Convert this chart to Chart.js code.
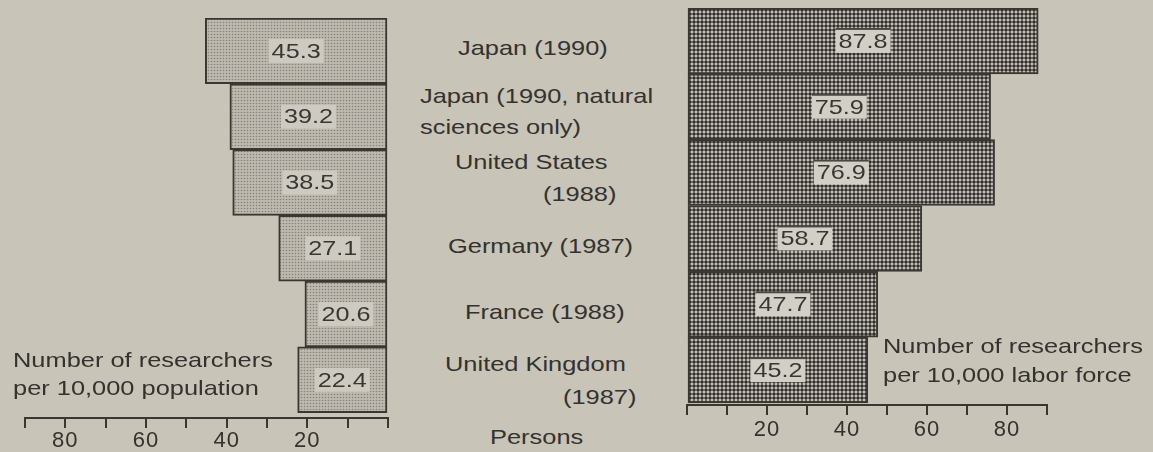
<!DOCTYPE html>
<html>
<head>
<meta charset="utf-8">
<title>Number of researchers</title>
<script src="https://cdn.jsdelivr.net/npm/chart.js@4.4.1/dist/chart.umd.min.js"></script>
<style>
  html, body { margin: 0; padding: 0; background: #c8c4b7; }
  #stage {
    position: relative; width: 1153px; height: 452px; overflow: hidden;
    background: #c8c4b7; color: #34322f;
    font-family: "Liberation Sans", Arial, sans-serif;
  }
  #stage canvas { position: absolute; top: 0; }
  .t {
    position: absolute; font-size: 21px; line-height: 24px; white-space: nowrap;
    transform: scaleX(1.21); transform-origin: 0 0;
  }
</style>
</head>
<body>
<div id="stage">
  <canvas id="popChart" width="400" height="452" style="left:0"></canvas>
  <canvas id="laborChart" width="473" height="452" style="left:680px"></canvas>
</div>
<script>
// Countries (survey year), one entry per row, split into printed lines
const countries = [
  ["Japan (1990)"],
  ["Japan (1990, natural", "sciences only)"],
  ["United States", "(1988)"],
  ["Germany (1987)"],
  ["France (1988)"],
  ["United Kingdom", "(1987)"]
];
// Researchers per 10,000 population
const perPopulation = [45.3, 39.2, 38.5, 27.1, 20.6, 22.4];
// Researchers per 10,000 labor force
const perLaborForce = [87.8, 75.9, 76.9, 58.7, 47.7, 45.2];
// Axis labels
const axisTicks = [20, 40, 60, 80];
const axisUnit = "Persons";
const popCaption = ["Number of researchers", "per 10,000 population"];
const laborCaption = ["Number of researchers", "per 10,000 labor force"];

// ---- page text placement (left, top of each printed line) ----
const countryLinePos = [
  [[458, 36]],
  [[420, 84], [420, 115]],
  [[455, 150], [543, 182]],
  [[448, 234]],
  [[465, 300]],
  [[445, 352], [563, 385]]
];
const stage = document.getElementById('stage');
function addText(str, left, top) {
  const d = document.createElement('div');
  d.className = 't';
  d.textContent = str;
  d.style.left = left + 'px';
  d.style.top = top + 'px';
  stage.appendChild(d);
}
countries.forEach((lines, i) => lines.forEach((s, j) => addText(s, countryLinePos[i][j][0], countryLinePos[i][j][1])));
addText(axisUnit, 490, 425);
addText(popCaption[0], 13, 348);
addText(popCaption[1], 13, 376);
addText(laborCaption[0], 883, 334);
addText(laborCaption[1], 883, 363);

// ---- drawing helpers ----
const INK = '#3a3733';
const FONT = '"Liberation Sans", Arial, sans-serif';

// Fine halftone screen for the population bars
function fineScreen() {
  const c = document.createElement('canvas');
  c.width = c.height = 3;
  const g = c.getContext('2d');
  g.fillStyle = '#bebab0';
  g.fillRect(0, 0, 3, 3);
  g.fillStyle = '#85817a';
  g.beginPath();
  g.arc(1.5, 1.5, 0.8, 0, Math.PI * 2);
  g.fill();
  return g.createPattern(c, 'repeat');
}
// Coarse dark/light checker screen for the labor-force bars
function checkerScreen() {
  const s = 4;
  const c = document.createElement('canvas');
  c.width = c.height = s;
  const g = c.getContext('2d');
  g.fillStyle = '#6e6b66';
  g.fillRect(0, 0, s, s);
  g.fillStyle = '#2f2d2a';
  g.beginPath();
  g.arc(s / 2, s / 2, 1.35, 0, Math.PI * 2);
  g.fill();
  g.fillStyle = '#c4c1b8';
  [[0, 0], [s, 0], [0, s], [s, s]].forEach(([x, y]) => {
    g.beginPath();
    g.arc(x, y, 1.2, 0, Math.PI * 2);
    g.fill();
  });
  return g.createPattern(c, 'repeat');
}
const lightScreen = fineScreen();
const darkScreen = checkerScreen();

// Wider type spacing for the axis numbers
const typeSpacing = {
  id: 'typeSpacing',
  beforeDraw(chart) { chart.ctx.letterSpacing = '1px'; }
};

// Value tag in the middle of each bar
const valueTags = {
  id: 'valueTags',
  afterDatasetsDraw(chart, args, opts) {
    const ctx = chart.ctx;
    const meta = chart.getDatasetMeta(0);
    const values = chart.data.datasets[0].data;
    ctx.save();
    ctx.letterSpacing = '0px';
    ctx.font = '21px ' + FONT;
    ctx.textAlign = 'center';
    ctx.textBaseline = 'middle';
    meta.data.forEach((bar, i) => {
      const text = values[i].x.toFixed(1);
      const cx = (bar.x + bar.base) / 2;
      const cy = bar.y;
      const w = ctx.measureText(text).width * 1.2 + 6;
      const h = 24;
      ctx.fillStyle = opts.box;
      ctx.fillRect(cx - w / 2, cy - h / 2, w, h);
      if (opts.rule) {
        ctx.fillStyle = opts.rule;
        ctx.fillRect(cx - w / 2, cy - h / 2 - 1, w, 2);
      }
      ctx.save();
      ctx.translate(cx, cy + 1);
      ctx.scale(1.2, 1);
      ctx.fillStyle = INK;
      ctx.fillText(text, 0, 0);
      ctx.restore();
    });
    ctx.restore();
  }
};

function barChart(canvasId, values, fill, reverse, padding, axisHeight, rowMax, tagOpts, labelPad) {
  return new Chart(document.getElementById(canvasId), {
    type: 'bar',
    data: {
      datasets: [{
        data: values.map((v, i) => ({ x: v, y: i })),
        backgroundColor: fill,
        borderColor: INK,
        borderWidth: 2,
        borderSkipped: false,
        barPercentage: 1,
        categoryPercentage: 1
      }]
    },
    options: {
      indexAxis: 'y',
      responsive: false,
      animation: false,
      events: [],
      layout: { padding: padding },
      plugins: {
        legend: { display: false },
        tooltip: { enabled: false },
        valueTags: tagOpts
      },
      scales: {
        y: {
          type: 'linear',
          min: -0.5,
          max: rowMax,
          reverse: true,
          offset: false,
          display: false,
          afterBuildTicks: s => { s.ticks = values.map((v, i) => ({ value: i })); }
        },
        x: {
          type: 'linear',
          min: 0,
          max: 90,
          reverse: reverse,
          afterFit: s => { s.height = axisHeight; },
          grid: {
            display: true,
            drawOnChartArea: false,
            drawTicks: true,
            tickLength: 10,
            color: INK,
            lineWidth: 2
          },
          border: { display: true, color: INK, width: 2 },
          ticks: {
            stepSize: 10,
            autoSkip: false,
            maxRotation: 0,
            padding: labelPad,
            color: '#34322f',
            font: { family: FONT, size: 22 },
            callback: v => axisTicks.includes(v) ? String(v) : ''
          }
        }
      }
    },
    plugins: [typeSpacing, valueTags]
  });
}

barChart('popChart', perPopulation, lightScreen, true,
  { left: 25, right: 12, top: 18, bottom: 0 }, 34, 5.58,
  { box: '#cdcac1' }, 0);
barChart('laborChart', perLaborForce, darkScreen, false,
  { left: 7, right: 106, top: 8, bottom: 0 }, 47, 5.53,
  { box: '#d2cfc6', rule: '#4a4743' }, 2);
</script>
</body>
</html>
